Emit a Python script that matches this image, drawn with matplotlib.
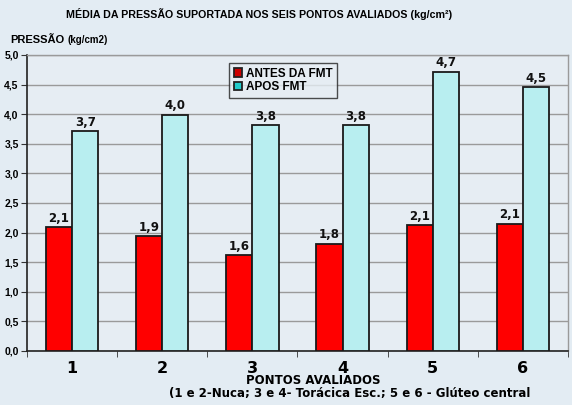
import matplotlib
matplotlib.use("Agg")
import matplotlib.pyplot as plt
import numpy as np

categories = ["1", "2", "3", "4", "5", "6"]
antes = [2.09, 1.94, 1.62, 1.81, 2.13, 2.15]
apos = [3.71, 3.99, 3.81, 3.81, 4.72, 4.46]
antes_labels = ["2,1", "1,9", "1,6", "1,8", "2,1", "2,1"]
apos_labels = ["3,7", "4,0", "3,8", "3,8", "4,7", "4,5"]
yticks = [0.0, 0.5, 1.0, 1.5, 2.0, 2.5, 3.0, 3.5, 4.0, 4.5, 5.0]
ytick_labels = ["0,0", "0,5", "1,0", "1,5", "2,0", "2,5", "3,0", "3,5", "4,0", "4,5", "5,0"]

bg = "#E3ECF3"
fig = plt.figure(figsize=(5.72, 4.05), dpi=100, facecolor=bg)
ax = fig.add_axes([27/572, 1-351/405, (568-27)/572, (351-55)/405])
ax.set_facecolor("#E6EDF3")

x = np.arange(len(categories))
w = 0.29
ax.bar(x - w/2, antes, w, color="#FF0000", edgecolor="#1a1a1a", linewidth=1.3,
       label="ANTES DA FMT", zorder=3)
ax.bar(x + w/2, apos, w, color="#B8EEF0", edgecolor="#1a1a1a", linewidth=1.3,
       label="APOS FMT", zorder=3)

for xi, v, lab in zip(x - w/2, antes, antes_labels):
    ax.text(xi, v + 0.04, lab, ha="center", va="bottom", fontsize=8.5,
            fontweight="bold", family="DejaVu Sans", color="#111111")
for xi, v, lab in zip(x + w/2, apos, apos_labels):
    ax.text(xi, v + 0.04, lab, ha="center", va="bottom", fontsize=8.5,
            fontweight="bold", family="DejaVu Sans", color="#111111")

ax.set_xlim(-0.5, len(categories) - 0.5)
ax.set_ylim(0, 5.0)
ax.set_yticks(yticks)
ax.set_yticklabels(ytick_labels, fontsize=7.5, fontweight="bold", family="Liberation Sans")
ax.yaxis.grid(True, color="#9a9a9a", linewidth=1.0, zorder=0)
ax.set_axisbelow(True)

ax.set_xticks(x)
ax.set_xticklabels(categories, fontsize=11.5, fontweight="bold", family="DejaVu Sans")
ax.tick_params(axis="x", which="major", length=0, pad=7)
ax.set_xticks(np.arange(-0.5, len(categories)), minor=True)
ax.tick_params(axis="x", which="minor", length=4, direction="out", color="#333333")
ax.tick_params(axis="y", length=4, direction="out", color="#333333", pad=2)

for s in ["left", "bottom"]:
    ax.spines[s].set_color("#222222")
    ax.spines[s].set_linewidth(1.2)
for s in ["top", "right"]:
    ax.spines[s].set_color("#9a9a9a")
    ax.spines[s].set_linewidth(1.0)

leg = ax.legend(loc="upper left", bbox_to_anchor=((229-27)/541, (351-63)/296),
                fontsize=8.5, frameon=True, fancybox=False, handlelength=0.7,
                handleheight=0.7, handletextpad=0.3, borderpad=0.4,
                labelspacing=0.15, borderaxespad=0)
leg.get_frame().set_edgecolor("#222222")
leg.get_frame().set_facecolor("#E6EDF3")
leg.get_frame().set_linewidth(1.0)
for t in leg.get_texts():
    t.set_fontweight("bold")
    t.set_family("Liberation Sans")
for h, c in zip(leg.legend_handles, ["#CC0000", "#22CCCC"]):
    h.set_facecolor(c)
    h.set_edgecolor("#222222")

fig.text(259/572, 1-14/405, "MÉDIA DA PRESSÃO SUPORTADA NOS SEIS PONTOS AVALIADOS (kg/cm²)",
         ha="center", va="center", fontsize=7.7, fontweight="bold", family="Liberation Sans")
fig.text(10/572, 1-40/405, "PRESSÃO", ha="left", va="center", fontsize=8,
         fontweight="bold", family="Liberation Sans")
fig.text(68/572, 1-40/405, "(kg/cm2)", ha="left", va="center", fontsize=7,
         fontweight="bold", family="Liberation Sans")
fig.text(313/572, 1-381/405, "PONTOS AVALIADOS", ha="center", va="center", fontsize=8.5,
         fontweight="bold", family="DejaVu Sans")
fig.text(169/572, 1-394/405, "(1 e 2-Nuca; 3 e 4- Torácica Esc.; 5 e 6 - Glúteo central",
         ha="left", va="center", fontsize=8.5, fontweight="bold", family="DejaVu Sans")

fig.savefig("out.png", dpi=100, facecolor=bg)
